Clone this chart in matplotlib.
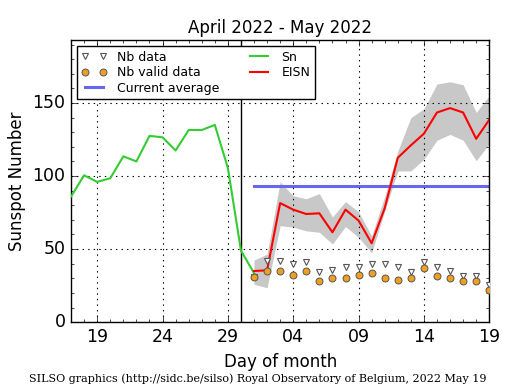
import datetime as dt
import matplotlib
matplotlib.use("Agg")
import matplotlib.pyplot as plt
import matplotlib.dates as mdates
from matplotlib.ticker import MultipleLocator

plt.style.use("classic")

# daily sunspot number Sn (Apr 17 .. May 1)
sn_start = dt.date(2022, 4, 17)
sn_vals = [86, 100.5, 96, 98.5, 113.5, 110, 127.5, 126.5, 117.5, 131.5, 131.5,
           135, 105.5, 49, 33.5]

# estimated ISN and its spread (May 1 .. May 19)
eisn_start = dt.date(2022, 5, 1)
eisn_vals = [35, 35.5, 81.5, 77, 74, 74.5, 61.5, 77, 69.5, 54, 78, 112.5, 121,
             129, 143.5, 146.5, 143.5, 125.5, 138.5]
eisn_hi = [42.5, 46.5, 96, 86.5, 84.5, 88, 72, 82.5, 75.5, 59, 86, 117, 140,
           146, 163, 164.5, 162.5, 143.5, 155]
eisn_lo = [26, 23.5, 66, 65, 62.5, 61.5, 53.5, 65.5, 58, 47.5, 76, 103.5, 103.5,
           111.5, 124.5, 128.5, 124.5, 110.5, 122]

# number of stations
nb_data = [31, 42, 42, 39.5, 41.5, 34.5, 35.5, 37.5, 37.5, 39.5, 39.5, 37.5,
           34, 41.5, 37.5, 35, 31.5, 31.5, 25.5]
nb_valid = [31, 35, 35, 32.5, 35, 28.5, 30.5, 30, 32.5, 33.5, 30.5, 29, 30,
            37, 31.5, 30.5, 28, 28.5, 22]

current_avg = 93.5

sn_days = [sn_start + dt.timedelta(days=i) for i in range(len(sn_vals))]
ei_days = [eisn_start + dt.timedelta(days=i) for i in range(len(eisn_vals))]

fig = plt.figure(figsize=(5.15, 3.9), dpi=100, facecolor="white")
ax = fig.add_axes([0.138, 0.174, 0.812, 0.723])

ax.fill_between(ei_days, eisn_lo, eisn_hi, color="#c8c8c8", lw=0, zorder=1)
ax.plot(sn_days, sn_vals, color="#33cc33", lw=1.5, label="Sn", zorder=3)
ax.plot(ei_days, eisn_vals, color="red", lw=1.5, label="EISN", zorder=3)
ax.plot([ei_days[0], ei_days[-1]], [current_avg, current_avg], color="#6666ee",
        lw=2.2, label="Current average", zorder=2)
ax.plot(ei_days, nb_data, "v", ls="none", mfc="white", mec="#555555",
        ms=4, mew=0.8, label="Nb data", zorder=4)
ax.plot(ei_days, nb_valid, "o", ls="none", mfc="#f0a020", mec="#555555",
        ms=5, mew=0.7, label="Nb valid data", zorder=5)
ax.axvline(dt.date(2022, 4, 30), color="black", lw=1, zorder=2)

ax.set_xlim(dt.date(2022, 4, 17), dt.date(2022, 5, 19))
ax.set_ylim(0, 193)
ax.xaxis.set_major_locator(mdates.DayLocator(bymonthday=[4, 9, 14, 19, 24, 29]))
ax.xaxis.set_minor_locator(mdates.DayLocator())
ax.xaxis.set_major_formatter(mdates.DateFormatter("%d"))
ax.yaxis.set_major_locator(MultipleLocator(50))
ax.yaxis.set_minor_locator(MultipleLocator(10))
ax.grid(True, which="major", color="black", ls=":", lw=0.8)
ax.tick_params(labelsize=12.5)

ax.set_title("April 2022 - May 2022", fontsize=12)
ax.set_xlabel("Day of month", fontsize=12)
ax.set_ylabel("Sunspot Number", fontsize=12)

h, l = ax.get_legend_handles_labels()
order = [l.index(k) for k in ["Nb data", "Nb valid data", "Current average", "Sn", "EISN"]]
ax.legend([h[i] for i in order], [l[i] for i in order], loc="upper left", ncol=2,
          fontsize=9, numpoints=2, handlelength=2.0, borderpad=0.35,
          labelspacing=0.2, columnspacing=2.2, handletextpad=0.8, framealpha=1)

fig.text(0.5, 0.02, "SILSO graphics (http://sidc.be/silso) Royal Observatory of Belgium, 2022 May 19",
         ha="center", fontsize=8, family="DejaVu Serif")

fig.savefig("out.png", dpi=100, facecolor="white")
